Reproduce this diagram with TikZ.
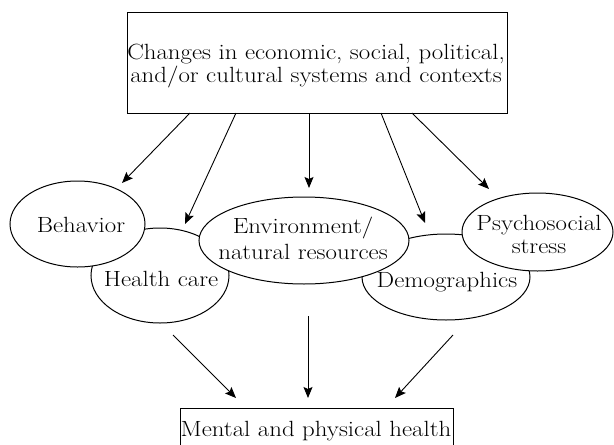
\documentclass[tikz,border=0pt]{standalone}
\usepackage{fontspec}
\usetikzlibrary{shapes.geometric,arrows.meta}
\begin{document}
\begin{tikzpicture}[x=1pt,y=-1pt,
  lbl/.style={inner sep=0pt,align=center,xscale=1.13,transform shape,font=\fontsize{22}{23.5}\selectfont},
  oval/.style={ellipse,draw,line width=1pt,fill=white,inner sep=0pt},
  box/.style={draw,line width=1pt,inner sep=0pt},
  arr/.style={line width=0.9pt,-{Stealth[length=11pt,width=9pt,inset=2pt]}}]
\useasboundingbox (0,0) rectangle (614,445);
\clip (0,0) rectangle (614,445);
% boxes
\node[box,minimum width=380pt,minimum height=101pt] (top) at (317,62.5) {};
\node[lbl] (toptext) at (316,66) {Changes in economic, social, political,\\and/or cultural systems and contexts};
\node[box,minimum width=273pt,minimum height=42pt] (out) at (316.5,429) {};
\node[lbl,anchor=base] (outtext) at (316,436) {Mental and physical health};
% ovals (back ones first)
\node[oval,minimum width=138pt,minimum height=95pt] (hc) at (160,275.5) {};
\node[oval,minimum width=168pt,minimum height=86pt] (dem) at (446,277) {};
\node[oval,minimum width=135pt,minimum height=86pt] (beh) at (77.5,224) {};
\node[oval,minimum width=210pt,minimum height=87pt] (env) at (304,240.5) {};
\node[oval,minimum width=151pt,minimum height=78pt] (psy) at (537.5,232) {};
% labels
\node[lbl,anchor=base] (behtext) at (81,232) {Behavior};
\node[lbl,anchor=base] (hctext) at (161,286) {Health care};
\node[lbl,font=\fontsize{22}{26}\selectfont] (envtext) at (303,238) {Environment/\\natural resources};
\node[lbl,anchor=base] (demtext) at (447,287) {Demographics};
\node[lbl,font=\fontsize{22}{23}\selectfont] (psytext) at (539,234) {Psychosocial\\stress};
% arrow coordinates
\coordinate (s1) at (190,113);
\coordinate (s2) at (236,113);
\coordinate (s3) at (309,113);
\coordinate (s4) at (381,113);
\coordinate (s5) at (412,113);
\coordinate (e1) at (122,183);
\coordinate (e2) at (185,224);
\coordinate (e3) at (309,188);
\coordinate (e4) at (425,223);
\coordinate (e5) at (489,189);
\coordinate (b1) at (173,335);
\coordinate (b2) at (308,316);
\coordinate (b3) at (453,335);
\coordinate (f1) at (236,398);
\coordinate (f2) at (308,398);
\coordinate (f3) at (395,398);
\draw[arr] (s1) -- (e1);
\draw[arr] (s2) -- (e2);
\draw[arr] (s3) -- (e3);
\draw[arr] (s4) -- (e4);
\draw[arr] (s5) -- (e5);
\draw[arr] (b1) -- (f1);
\draw[arr] (b2) -- (f2);
\draw[arr] (b3) -- (f3);
\end{tikzpicture}
\end{document}
